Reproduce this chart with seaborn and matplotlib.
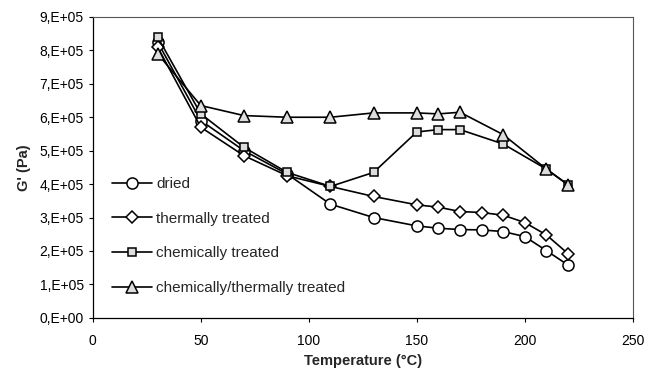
import matplotlib
matplotlib.use("Agg")
import matplotlib.pyplot as plt
import seaborn as sns
import pandas as pd
from matplotlib.ticker import FuncFormatter

sns.set_theme(style="white")
plt.rcParams['font.family'] = ['Liberation Sans', 'DejaVu Sans']

x_dried = [30, 50, 70, 90, 110, 130, 150, 160, 170, 180, 190, 200, 210, 220]
dried = [8.25e5, 5.9e5, 5.0e5, 4.3e5, 3.4e5, 3.0e5, 2.75e5, 2.68e5, 2.64e5, 2.63e5, 2.58e5, 2.43e5, 2.01e5, 1.58e5]

x_thermal = [30, 50, 70, 90, 110, 130, 150, 160, 170, 180, 190, 200, 210, 220]
thermal = [8.1e5, 5.7e5, 4.85e5, 4.25e5, 3.93e5, 3.63e5, 3.38e5, 3.31e5, 3.18e5, 3.15e5, 3.07e5, 2.85e5, 2.48e5, 1.92e5]

x_chem = [30, 50, 70, 90, 110, 130, 150, 160, 170, 190, 210, 220]
chem = [8.4e5, 6.1e5, 5.1e5, 4.35e5, 3.93e5, 4.35e5, 5.56e5, 5.63e5, 5.63e5, 5.2e5, 4.45e5, 3.98e5]

x_ct = [30, 50, 70, 90, 110, 130, 150, 160, 170, 190, 210, 220]
chem_thermal = [7.9e5, 6.35e5, 6.05e5, 6.0e5, 6.0e5, 6.13e5, 6.13e5, 6.1e5, 6.15e5, 5.48e5, 4.45e5, 3.98e5]

labels = ["dried", "thermally treated", "chemically treated", "chemically/thermally treated"]
markers = ["o", "D", "s", "^"]
msizes = [8, 6, 6, 9]
faces = ["white", "white", "#dddddd", "#dddddd"]

series = [(x_dried, dried), (x_thermal, thermal), (x_chem, chem), (x_ct, chem_thermal)]

fig = plt.figure(figsize=(6.49, 3.77), dpi=100)
ax = fig.add_axes([0.143, 0.157, 0.832, 0.798])

for (xs, ys), lab, m, ms, fc in zip(series, labels, markers, msizes, faces):
    df = pd.DataFrame({"T": xs, "G": ys})
    sns.lineplot(data=df, x="T", y="G", ax=ax, color="black", linewidth=1.2,
                 marker=m, markersize=ms, markerfacecolor=fc, markeredgecolor="black",
                 markeredgewidth=1.1, label=lab)

ax.set_xlim(0, 250)
ax.set_ylim(0, 9e5)
ax.set_xticks([0, 50, 100, 150, 200, 250])
ax.set_yticks([i * 1e5 for i in range(10)])
ax.yaxis.set_major_formatter(FuncFormatter(lambda v, p: "%d,E+%02d" % (round(v / 1e5), 5) if v > 0 else "0,E+00"))

ax.set_xlabel("Temperature (°C)", fontsize=10.5, fontweight="bold", labelpad=4)
ax.set_ylabel("G' (Pa)", fontsize=10.5, fontweight="bold", labelpad=6)
ax.tick_params(axis="both", labelsize=10, colors="black", length=3, direction="out", width=0.8)
ax.tick_params(axis="x", pad=9)
ax.tick_params(bottom=True, left=True)

for s in ["left", "bottom"]:
    ax.spines[s].set_color("black")
    ax.spines[s].set_linewidth(0.9)
for s in ["top", "right"]:
    ax.spines[s].set_color("#555555")
    ax.spines[s].set_linewidth(0.8)
    ax.spines[s].set_linestyle((0, (1, 1)))

leg = ax.legend(loc="lower left", bbox_to_anchor=(0.01, 0.03), frameon=False, fontsize=11,
                handlelength=2.6, labelspacing=1.35, handletextpad=0.3)

fig.savefig("out.png", dpi=100)
